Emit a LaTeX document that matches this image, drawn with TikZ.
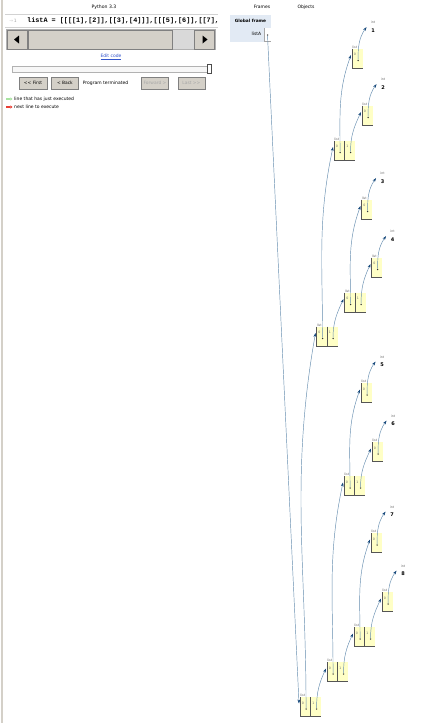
\documentclass[tikz,border=0pt]{standalone}
\usepackage{fontspec}
\newfontfamily\uifont{DejaVu Sans}
\newfontfamily\codefont{Liberation Mono}
\usetikzlibrary{positioning,arrows.meta}
\definecolor{tutoryellow}{HTML}{FFFFC6}
\definecolor{cellborder}{HTML}{555555}
\definecolor{framefill}{HTML}{E2EAF4}
\definecolor{btngray}{HTML}{D4D0C8}
\definecolor{btnedge}{HTML}{808080}
\definecolor{ptrline}{RGB}{100,140,175}
\definecolor{ptrhead}{RGB}{25,75,125}
\definecolor{linkblue}{HTML}{3355CC}
\definecolor{legendgreen}{HTML}{A8E4A0}
\definecolor{legendred}{HTML}{E93F34}
\newcommand{\celldeco}[2]{%
  \draw[cellline] (#1.north west) -- (#1.south west) -- (#1.south east);
  \node[idxlabel] at ([xshift=3pt,yshift=-6pt]#1.north west) {#2};
  \node[ptrdot] (#1p) at ([xshift=0.8pt,yshift=7.5pt]#1.south) {};
}
\newcommand{\listhead}[1]{%
  \node[typelabel, anchor=south west] at (#1.north west) {list};
  \coordinate (#1in) at ([xshift=-1pt,yshift=-6.5pt]#1.north west);
}
\newcommand{\twolist}[1]{\listhead{#1-0}\celldeco{#1-0}{0}\celldeco{#1-1}{1}}
\newcommand{\onelist}[1]{\listhead{#1-0}\celldeco{#1-0}{0}}
\newcommand{\intobj}[3]{%
  \node[typelabel, anchor=west] (#1) at ([xshift=8pt,yshift=26pt]#2.north east) {int};
  \node[intval, anchor=north west] (#1v) at ([xshift=0.5pt,yshift=-4pt]#1.south west) {#3};
  \coordinate (#1in) at ([xshift=-4pt,yshift=-3pt]#1.south west);
}
\tikzset{
  uitext/.style={font=\uifont\fontsize{4.5}{5}\selectfont, inner sep=0pt},
  codetext/.style={font=\codefont\bfseries\fontsize{6.8}{7}\selectfont, inner sep=0pt},
  frametitle/.style={font=\uifont\bfseries\fontsize{4.3}{5}\selectfont, inner sep=0pt},
  uibutton/.style={draw=btnedge, fill=btngray, minimum width=27pt, minimum height=12pt,
    inner sep=0pt, font=\uifont\fontsize{4.4}{5}\selectfont},
  offbutton/.style={uibutton, text=gray!70},
  sbbutton/.style={draw=btnedge, fill=btngray, minimum width=20pt, minimum height=19pt, inner sep=0pt},
  listcell/.style={fill=tutoryellow, minimum width=10.5pt, minimum height=19.5pt,
    inner sep=0pt, outer sep=0pt},
  cellline/.style={draw=cellborder, line width=0.7pt},
  typelabel/.style={font=\uifont\fontsize{3.2}{3.5}\selectfont, text=gray!80!black, inner sep=0.2pt},
  idxlabel/.style={font=\uifont\fontsize{3.2}{3.5}\selectfont, text=gray!90!black, inner sep=0pt},
  intval/.style={font=\uifont\bfseries\fontsize{5}{6}\selectfont, inner sep=0.2pt},
  ptrdot/.style={circle, fill=black!80, inner sep=0pt, minimum size=1.5pt},
  ptr/.style={draw=ptrline, line width=0.45pt, -{Stealth[length=4pt,width=2.8pt,color=ptrhead]}}
}
\begin{document}
\begin{tikzpicture}[x=1pt,y=-1pt]
  \useasboundingbox (0,0) rectangle (426,723);
  \fill[white] (0,0) rectangle (426,723);
  \draw[btngray, line width=1.6pt] (2,0) -- (2,723);
  % code panel
  \node[uitext, font=\uifont\fontsize{4.6}{5}\selectfont] (pytitle) at (104,7) {Python 3.3};
  \draw[gray!35] (5,14.5) -- (218,14.5) (5,27) -- (218,27);
  \node[uitext, text=gray!70] (lineno) at (13,21) {\textcolor{gray!40}{→}\,1};
  \begin{scope}
    \clip (20,15) rectangle (218,26.5);
    \node[codetext, anchor=west] (codeline) at (27,21) {listA = [[[[1],[2]],[[3],[4]]],[[[5],[6]],[[7],[8]]]]};
  \end{scope}
  \fill[gray!30] (7,30) rectangle (215,49);
  \draw[gray!60] (6.5,29.5) rectangle (215.5,49.5);
  \node[sbbutton] (sbleft) at (17,39.5) {};
  \node[sbbutton, minimum width=144pt] (sbthumb) at (100,39.5) {};
  \node[sbbutton] (sbright) at (204.5,39.5) {};
  \fill ([xshift=-3pt]sbleft.center) -- ([xshift=2pt,yshift=4pt]sbleft.center) -- ([xshift=2pt,yshift=-4pt]sbleft.center) -- cycle;
  \fill ([xshift=3pt]sbright.center) -- ([xshift=-2pt,yshift=4pt]sbright.center) -- ([xshift=-2pt,yshift=-4pt]sbright.center) -- cycle;
  \node[uitext, text=linkblue] (editcode) at (111,57) {\underline{Edit code}};
  \draw[gray!60, fill=gray!6] (12,66) rectangle (209,72);
  \node[draw=black!70, fill=white, minimum width=4pt, minimum height=9pt, inner sep=0pt] (sliderknob) at (209,69) {};
  \node[uibutton, minimum width=28pt] (btnfirst) at (33,83) {<< First};
  \node[uibutton, right=4pt of btnfirst] (btnback) {< Back};
  \node[uitext, right=4pt of btnback] (status) {Program terminated};
  \node[offbutton] (btnfwd) at (155,83) {Forward >};
  \node[offbutton, right=9pt of btnfwd] (btnlast) {Last >>};
  \draw[legendgreen, line width=1.1pt, -{Triangle[length=2.2pt,width=3pt]}] (6,99) -- (12.5,99);
  \node[uitext, anchor=west] (legendjust) at (14,99) {line that has just executed};
  \draw[legendred, line width=1.1pt, -{Triangle[length=2.2pt,width=3pt]}] (6,107) -- (12.5,107);
  \node[uitext, anchor=west] (legendnext) at (14,107) {next line to execute};
  % frames
  \node[uitext] (frameshead) at (262,7) {Frames};
  \node[uitext] (objhead) at (306,7) {Objects};
  \fill[framefill] (230,15) rectangle (271,42);
  \node[frametitle] (gframe) at (250.5,20.5) {Global frame};
  \node[uitext, anchor=east] (varA) at (261.5,34) {listA};
  \fill[white] (264,28) rectangle (271,41);
  \draw[gray!70] (264,28) -- (264,41) -- (271,41);
  \node[ptrdot] (varAp) at (267.5,35) {};
  % objects
  \node[listcell] (lstA-0) at (305.25,706.75) {};
  \node[listcell, right=0pt of lstA-0] (lstA-1) {};
  \node[listcell, on grid, above right=370.5pt and 16.5pt of lstA-0] (lA0-0) {};
  \node[listcell, right=0pt of lA0-0] (lA0-1) {};
  \node[listcell, on grid, above right=35pt and 27pt of lstA-0] (lA1-0) {};
  \node[listcell, right=0pt of lA1-0] (lA1-1) {};
  \node[listcell, on grid, above right=186pt and 17.5pt of lA0-0] (lA00-0) {};
  \node[listcell, right=0pt of lA00-0] (lA00-1) {};
  \node[listcell, on grid, above right=34pt and 28pt of lA0-0] (lA01-0) {};
  \node[listcell, right=0pt of lA01-0] (lA01-1) {};
  \node[listcell, on grid, above right=186pt and 17pt of lA1-0] (lA10-0) {};
  \node[listcell, right=0pt of lA10-0] (lA10-1) {};
  \node[listcell, on grid, above right=35pt and 27pt of lA1-0] (lA11-0) {};
  \node[listcell, right=0pt of lA11-0] (lA11-1) {};
  \node[listcell, on grid, above right=92pt and 18pt of lA00-0] (lA000-0) {};
  \node[listcell, on grid, above right=35pt and 28pt of lA00-0] (lA001-0) {};
  \node[listcell, on grid, above right=93pt and 17pt of lA01-0] (lA010-0) {};
  \node[listcell, on grid, above right=35pt and 27pt of lA01-0] (lA011-0) {};
  \node[listcell, on grid, above right=93pt and 17pt of lA10-0] (lA100-0) {};
  \node[listcell, on grid, above right=34pt and 28pt of lA10-0] (lA101-0) {};
  \node[listcell, on grid, above right=94pt and 17pt of lA11-0] (lA110-0) {};
  \node[listcell, on grid, above right=35pt and 28pt of lA11-0] (lA111-0) {};
  \twolist{lstA}
  \twolist{lA0}
  \twolist{lA1}
  \twolist{lA00}
  \twolist{lA01}
  \twolist{lA10}
  \twolist{lA11}
  \onelist{lA000}
  \onelist{lA001}
  \onelist{lA010}
  \onelist{lA011}
  \onelist{lA100}
  \onelist{lA101}
  \onelist{lA110}
  \onelist{lA111}
  \intobj{n1}{lA000-0}{1}
  \intobj{n2}{lA001-0}{2}
  \intobj{n3}{lA010-0}{3}
  \intobj{n4}{lA011-0}{4}
  \intobj{n5}{lA100-0}{5}
  \intobj{n6}{lA101-0}{6}
  \intobj{n7}{lA110-0}{7}
  \intobj{n8}{lA111-0}{8}
  % pointers
  \draw[ptr] (varAp) -- (lstA-0in);
  \draw[ptr] (lstA-0p) to[out=90,in=260] (lA0-0in);
  \draw[ptr] (lstA-1p) to[out=90,in=245] (lA1-0in);
  \draw[ptr] (lA0-0p) to[out=90,in=258] (lA00-0in);
  \draw[ptr] (lA0-1p) to[out=90,in=245] (lA01-0in);
  \draw[ptr] (lA1-0p) to[out=90,in=258] (lA10-0in);
  \draw[ptr] (lA1-1p) to[out=90,in=245] (lA11-0in);
  \draw[ptr] (lA00-0p) to[out=90,in=250] (lA000-0in);
  \draw[ptr] (lA00-1p) to[out=90,in=245] (lA001-0in);
  \draw[ptr] (lA01-0p) to[out=90,in=250] (lA010-0in);
  \draw[ptr] (lA01-1p) to[out=90,in=245] (lA011-0in);
  \draw[ptr] (lA10-0p) to[out=90,in=250] (lA100-0in);
  \draw[ptr] (lA10-1p) to[out=90,in=245] (lA101-0in);
  \draw[ptr] (lA11-0p) to[out=90,in=250] (lA110-0in);
  \draw[ptr] (lA11-1p) to[out=90,in=245] (lA111-0in);
  \draw[ptr] (lA000-0p) to[out=90,in=235] (n1in);
  \draw[ptr] (lA001-0p) to[out=90,in=235] (n2in);
  \draw[ptr] (lA010-0p) to[out=90,in=235] (n3in);
  \draw[ptr] (lA011-0p) to[out=90,in=235] (n4in);
  \draw[ptr] (lA100-0p) to[out=90,in=235] (n5in);
  \draw[ptr] (lA101-0p) to[out=90,in=235] (n6in);
  \draw[ptr] (lA110-0p) to[out=90,in=235] (n7in);
  \draw[ptr] (lA111-0p) to[out=90,in=235] (n8in);
\end{tikzpicture}
\end{document}
